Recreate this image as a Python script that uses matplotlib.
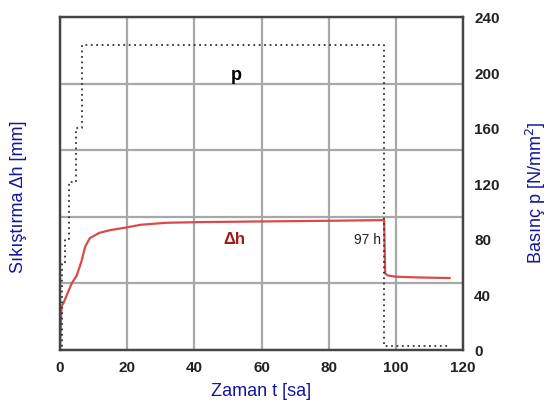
import matplotlib.pyplot as plt

plt.rcParams.update({
    "font.family": ["Liberation Sans", "DejaVu Sans"],
    "font.size": 10,
})

# --- data ---
# compression (left axis, unlabeled scale)
t_dh = [0, 0.3, 0.5, 1.0, 2.0, 3.5, 5.0, 6.4, 7.5, 8.9, 11.8, 15, 19.8, 24,
        31.6, 41.5, 60, 80, 96.5, 96.8, 97.5, 100, 106, 116]
dh = [0, 0.45, 0.66, 0.70, 0.82, 1.00, 1.12, 1.33, 1.55, 1.68, 1.76, 1.80, 1.84,
      1.88, 1.91, 1.92, 1.93, 1.94, 1.95, 1.15, 1.12, 1.10, 1.09, 1.08]

# pressure (right axis), stepwise loading
t_p = [0, 0.7, 1.5, 2.7, 4.7, 6.6, 96.5, 116]
p = [0, 62, 80, 121, 160, 220, 3, 3]

x_ticks = [0, 20, 40, 60, 80, 100, 120]
p_ticks = [0, 40, 80, 120, 160, 200, 240]
dh_ticks = [0, 1, 2, 3, 4, 5]

blue = "#14149e"
grid_col = "#a8a8a8"
spine_col = "#454545"

fig = plt.figure(figsize=(5.5, 4.06), dpi=100)
ax = fig.add_axes([0.109, 0.1355, 0.733, 0.8202])
ax2 = ax.twinx()

# grid from the left axis
ax.set_xlim(0, 120)
ax.set_ylim(0, 5)
ax.set_xticks(x_ticks)
ax.set_yticks(dh_ticks)
ax.set_yticklabels([])
ax.grid(True, color=grid_col, linewidth=1.6)
ax.set_axisbelow(True)
ax.tick_params(axis="both", length=0, pad=7, labelsize=11)
for lbl in ax.get_xticklabels():
    lbl.set_fontweight("bold")
    lbl.set_color("#222222")

ax.plot(t_dh, dh, color="#d94b4b", linewidth=1.6, zorder=3)

ax2.set_ylim(0, 240)
ax2.set_yticks(p_ticks)
ax2.tick_params(axis="y", length=0, pad=8, labelsize=11)
for lbl in ax2.get_yticklabels():
    lbl.set_fontweight("bold")
    lbl.set_color("#222222")
ax2.plot(t_p, p, drawstyle="steps-post", color="#333333",
         linestyle=(0, (1, 2)), linewidth=1.3, zorder=3)

for a in (ax, ax2):
    for s in a.spines.values():
        s.set_color(spine_col)
        s.set_linewidth(1.6)

# annotations
ax.text(52.4, 4.14, "p", fontsize=13, fontweight="bold", ha="center", va="center")
ax.text(52, 1.67, "Δh", fontsize=12, fontweight="bold", color="#a01818",
        ha="center", va="center")
ax.text(95.5, 1.67, "97 h", fontsize=10, ha="right", va="center", color="#222222")

ax.set_xlabel("Zaman t [sa]", color=blue, fontsize=13)
ax.xaxis.set_label_coords(0.5, -0.097)
ax.set_ylabel("Sıkıştırma Δh [mm]", color=blue, fontsize=13)
ax.yaxis.set_label_coords(-0.081, 0.462)
ax2.set_ylabel("Basınç p [N/mm$^2$]", color=blue, fontsize=13)
ax2.yaxis.set_label_coords(1.152, 0.474)

fig.savefig("out.png", dpi=100)
